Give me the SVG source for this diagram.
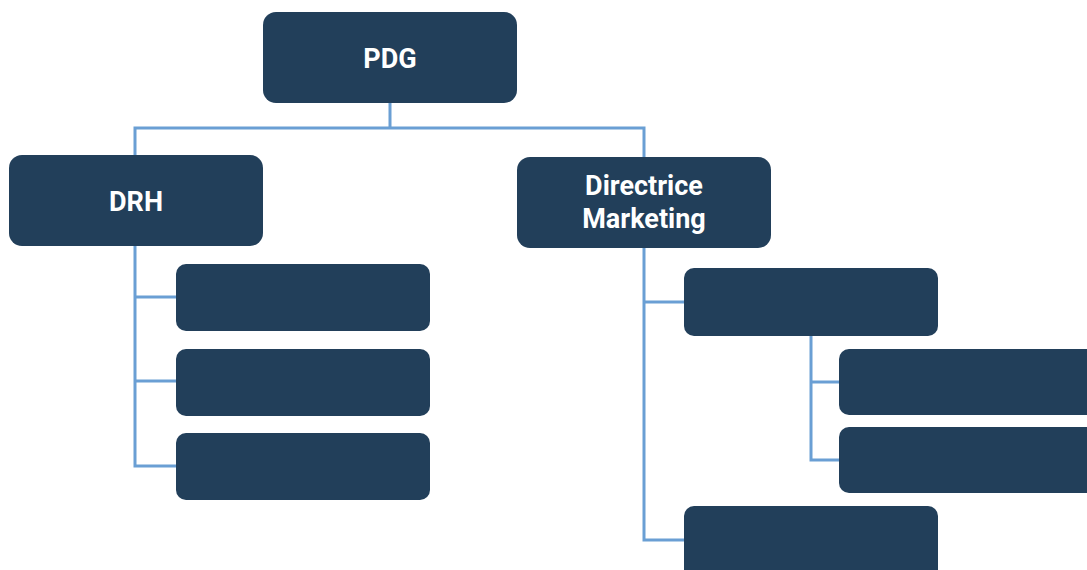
<svg xmlns="http://www.w3.org/2000/svg" width="1087" height="570" viewBox="0 0 1087 570">
<style>
.box{fill:#223f5a;}
.lbl{fill:#ffffff;font-family:Roboto,"Liberation Sans",sans-serif;font-weight:bold;font-size:27px;text-anchor:middle;}
.con{fill:none;stroke:#6a9fd4;stroke-width:3;}
</style>
<rect width="1087" height="570" fill="#ffffff"/>
<g id="connectors">
<path class="con" d="M390,103 V128 M135,155 V128 H644 V157"/>
<path class="con" d="M135,246 V466 H176 M135,297 H176 M135,381 H176"/>
<path class="con" d="M644,248 V540 H684 M644,302 H684"/>
<path class="con" d="M811,336 V460 H839 M811,382 H839"/>
</g>
<g id="pdg"><rect class="box" x="263" y="12" width="254" height="91" rx="13"/><text class="lbl" x="390" y="68">PDG</text></g>
<g id="drh"><rect class="box" x="9" y="155" width="254" height="91" rx="13"/><text class="lbl" x="136" y="211">DRH</text></g>
<g id="dm"><rect class="box" x="517" y="157" width="254" height="91" rx="13"/><text class="lbl" x="644" y="195">Directrice</text><text class="lbl" x="644" y="228">Marketing</text></g>
<g id="drh1"><rect class="box" x="176" y="264" width="254" height="67" rx="10"/></g>
<g id="drh2"><rect class="box" x="176" y="349" width="254" height="67" rx="10"/></g>
<g id="drh3"><rect class="box" x="176" y="433" width="254" height="67" rx="10"/></g>
<g id="dm1"><rect class="box" x="684" y="268" width="254" height="68" rx="10"/></g>
<g id="dm1a"><rect class="box" x="839" y="349" width="258" height="66" rx="10"/></g>
<g id="dm1b"><rect class="box" x="839" y="427" width="258" height="66" rx="10"/></g>
<g id="dm2"><rect class="box" x="684" y="506" width="254" height="74" rx="10"/></g>
</svg>
